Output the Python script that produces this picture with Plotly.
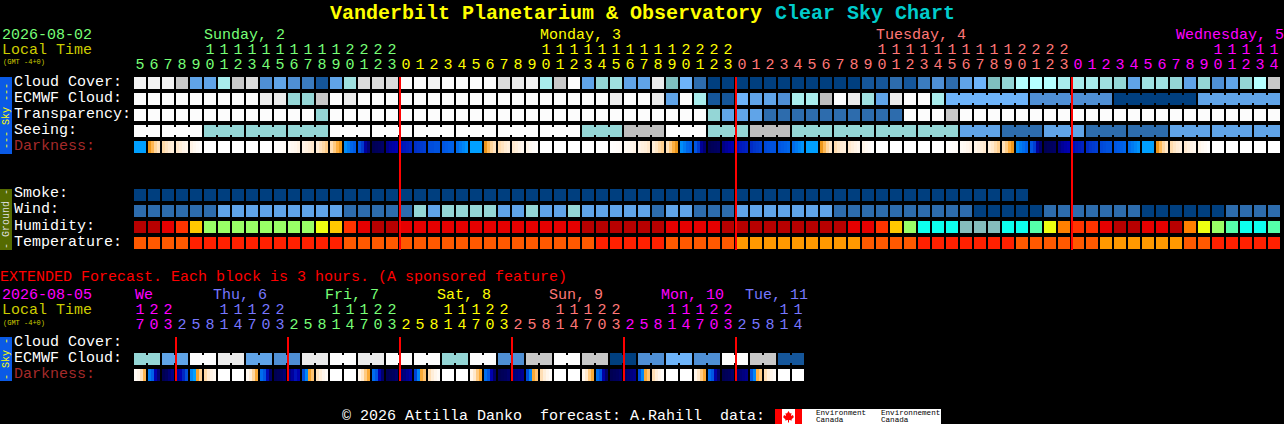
import plotly.graph_objects as go

W_PX, H_PX = 1284, 424
PITCH_X, PITCH_Y = 14, 16
LEFT, TOP = 134, 77
FONT = "Liberation Mono"
TITLE_FONT = "Liberation Mono"

PALETTE = {
    "W": "#fcfcfc", "W2": "#f3f3f3", "G0": "#ebebeb", "G1": "#dcdcdc", "G2": "#c8c8c8", "G3": "#bdbdbd",
    "C0": "#b5ffff", "C1": "#a8ecec", "C2": "#9fe0e0", "C3": "#94d6d6", "C4": "#7fbfbf",
    "B0": "#6eb4fa", "B1": "#60a4e8", "B2": "#4f8fd4", "B3": "#3b7cbf", "B4": "#2d6cad", "B5": "#15569a", "B6": "#003f7f",
    "D": "#b80000", "R": "#e60000", "O1": "#ff3300", "O2": "#ff8000", "Y": "#ffc800", "L": "#eeff11",
    "G": "#99ff66", "M": "#55ffaa", "Cy": "#0dffee", "S": "#85bdbd",
    "TA": "#ff9900", "TB": "#ff5900", "TC": "#ff2000",
}

cloud_cover = ("W2 W2 W2 G2 B1 B1 C1 G2 G1 B2 B1 B2 B3 B5 B1 C2 G1 G1 G1 "
               "W W W2 W W W W G1 G0 W2 C1 G2 W B1 C3 C2 B1 B1 G0 C4 B0 B4 B6 "
               "B6 B6 B6 B6 B6 B6 B6 B6 B6 B6 "
               "B5 B5 B4 B5 B3 B2 B4 B1 B0 C4 C3 C0 C0 C0 C1 C1 C1 C2 C3 B1 C2 C2 C3 B1 C3 B2 B1 C3 C0 G2").split()
ecmwf_cloud = ("W W W W W W W W W G0 G0 C3 C3 G2 W G0 W W W "
               "W W W W W W W W W W W W W W W G0 W W G0 B1 W C1 B5 B5 "
               "B0 B1 B1 B2 C1 C1 G3 W G0 C2 B1 G0 W W C1 "
               "B0 B0 B0 B0 B0 B0 B2 B2 B2 B2 B2 B2 B6 B6 B6 B6 B6 B6 B1 B1 B1 B1 B1 B1").split()
transparency = ("W W W W W W W W W W W W W C3 W W W W W "
                "W W W W W W W W W W W W W W W W W W W W W W C3 B1 "
                "B1 B1 B4 B4 B4 B4 B4 B4 B4 B4 B4 B4 W W W G2 "
                "W W W W W W W W W W W W W W W W W W W W W W W").split()
seeing = ("W W W W W C3 C3 C3 C3 C3 C3 C3 C3 C3 W W W W W "
          "W W W W W W W W W W W W W C3 C3 C3 G3 G3 G3 W W W C3 C3 "
          "C3 G3 G3 G3 C3 C3 C3 C3 C3 C3 C3 C3 C3 C3 C3 C3 "
          "B1 B1 B1 B4 B4 B4 B1 B1 B1 B4 B4 B4 B4 B4 B4 B1 B1 B1 B1 B1 B1 B1 B1").split()
smoke = ("B6 " * 64).split()
wind = ("B4 B4 B4 B4 B4 B4 B1 B1 B1 B1 B1 B1 B1 B1 B1 B4 B4 B4 B4 B4 C3 "
        "B1 C3 C3 C3 C3 B1 B1 C3 B1 B1 C3 B1 B1 B1 B1 B1 B4 B1 B1 B4 B4 B4 "
        "B1 B1 B1 B1 B1 B1 B1 B4 B4 B4 B4 B4 B4 B4 B4 B4 B4 "
        "B6 B6 B6 B6 B6 B4 B4 B4 B4 B4 B4 B4 B6 B6 B6 B6 B6 B6 B4 B4 B4 B4").split()
humidity = ("D D R O1 Y G G G G G G G G L Y O1 R D D R R "
            "R R R R R R R R R R R D D D D D D R R R R D D "
            "D D D D D D D R R O1 Y G Cy Cy Cy S S S Cy Cy M L O2 O1 O1 R D D R R D O2 L G M Cy Cy M").split()
temperature = ("TB TB TB TB TC TC TC TC TC TC TC TC TC TC TC TB TB TB TB TB TB "
               "TB TB TB TB TB TB TB TB TB TB TB TB TC TC TC TC TC TB TB TB TB TB TA "
               "TA TA TA TA TA TA TA TA TB TB TB TB TC TC TC TC TC TC TC TB TB TB TB TB TB "
               "TA TA TA TA TA TA TB TB TC TC TC TC TC").split()
darkness = [
    [50,50,50,50],[53,62,72,78],[74,78,82,84],[80,84,88,90],[88,92,96,98],
    [100,100,100,100],[100,100,100,100],[100,100,100,100],[100,100,100,100],[100,100,100,100],
    [99,98,97,95],[94,92,90,87],[88,86,83,80],[83,78,74,69],[76,68,60,53],
    [47,44,41,39],[37,32,16,8],[2,3,4,5],[12,16,18,20],
    [24,25,26,27],[30,31,32,33],[36,36,37,37],[38,39,40,40],[42,44,46,48],
    [50,50,50,50],[53,63,72,78],[75,78,82,85],[81,84,88,91],[89,93,96,98],
    [100,100,100,100],[100,100,100,100],[100,100,100,100],[100,100,100,100],[100,100,100,100],
    [99,98,97,96],[94,92,90,88],[88,86,84,80],[84,79,74,70],[77,68,60,53],
    [47,44,41,40],[38,32,15,8],[2,3,4,5],[11,15,18,20],
    [23,25,26,27],[29,31,32,33],[35,36,37,37],[38,39,40,41],[42,44,46,48],
    [50,50,50,50],[53,63,73,79],[75,79,83,85],[81,85,88,91],[89,93,96,99],
    [100,100,100,100],[100,100,100,100],[100,100,100,100],[100,100,100,100],[100,100,100,100],
    [99,98,97,96],[95,93,90,88],[89,86,84,81],[84,80,75,70],[77,69,60,53],
    [47,44,42,40],[38,33,15,7],[2,3,4,5],[10,15,18,20],
    [23,25,26,27],[29,31,32,33],[35,36,37,37],[38,39,40,41],[42,44,46,48],
    [50,50,50,50],[53,63,73,79],[75,79,83,85],[81,85,88,91],[89,93,96,99],
    [100,100,100,100],[100,100,100,100],[100,100,100,100],[100,100,100,100],[100,100,100,100],
]

ext_ecmwf = ("C3 C3 B1 B1 W W G0 G0 B1 B1 B2 B2 G0 G0 W W G0 G0 W W W W C3 C3 "
             "W W B2 B2 G2 G2 W W G2 G2 B6 B6 B2 B2 B0 B0 B2 B2 W W G2 G2 B5 B5").split()
ext_darkness = [
    [96,90,78,62],[44,40,20,8],[2,4,8,12],[16,20,28,36],[46,50,56,70],[74,82,88,92],[100,100,100,100],[100,100,100,100],
    [92,84,72,58],[42,38,22,6],[2,3,5,8],[10,16,24,20],[36,46,56,66],[78,84,90,96],[100,100,100,100],[100,100,100,100],
    [90,80,68,58],[42,38,20,6],[2,3,4,6],[8,10,14,18],[34,46,58,66],[76,84,90,96],[100,100,100,100],[100,100,100,100],
    [90,80,68,58],[42,38,20,6],[2,3,4,6],[8,10,12,14],[36,46,58,66],[76,84,90,96],[100,100,100,100],[100,100,100,100],
    [90,80,68,58],[42,38,18,6],[2,3,4,6],[6,8,10,12],[36,46,58,66],[76,84,90,96],[100,100,100,100],[100,100,100,100],
    [90,80,68,58],[42,38,18,6],[2,3,4,6],[6,8,10,12],[38,46,60,68],[76,84,90,96],[100,100,100,100],[100,100,100,100],
]

main_hours = [5,6,7,8,9,10,11,12,13,14,15,16,17,18,19,20,21,22,23,
              0,1,2,3,4,5,6,7,8,9,10,11,12,13,14,15,16,17,18,19,20,21,22,23,
              0,1,2,3,4,5,6,7,8,9,10,11,12,13,14,15,16,17,18,19,20,21,22,23,
              0,1,2,3,4,5,6,7,8,9,10,11,12,13,14]
ext_hours = [17,20,23, 2,5,8,11,14,17,20,23, 2,5,8,11,14,17,20,23, 2,5,8,11,14,17,20,23,
             2,5,8,11,14,17,20,23, 2,5,8,11,14,17,20,23, 2,5,8,11,14]

C_GREEN, C_YEL, C_SAL, C_MAG, C_PER = "#77ff77", "#ffff00", "#ff7777", "#ff00ff", "#7777ff"
main_day_labels = [("Sunday, 2", 204, C_GREEN), ("Monday, 3", 540, C_YEL), ("Tuesday, 4", 876, C_SAL), ("Wednesday, 5", 1176, C_MAG)]
main_day_spans = [(19, C_GREEN), (24, C_YEL), (24, C_SAL), (15, C_MAG)]
ext_day_labels = [("We", 135, C_MAG), ("Thu, 6", 213, C_PER), ("Fri, 7", 325, C_GREEN), ("Sat, 8", 437, C_YEL),
                  ("Sun, 9", 549, C_SAL), ("Mon, 10", 661, C_MAG), ("Tue, 11", 745, C_PER)]
ext_day_spans = [(3, C_MAG), (8, C_PER), (8, C_GREEN), (8, C_YEL), (8, C_SAL), (8, C_MAG), (5, C_PER)]
main_midnights = [19, 43, 67]
ext_midnights = [3, 11, 19, 27, 35, 43]

seeing_blocks = [(0, 1)] + [(s, min(s + 2, 81)) for s in range(2, 82, 3)]
ecmwf_blocks = [(58, 63), (64, 69), (70, 75), (76, 81)]
ext_blocks = [(s, s + 1) for s in range(0, 48, 2)]

for series in (cloud_cover, ecmwf_cloud, transparency, seeing, wind, humidity, temperature, darkness, main_hours):
    assert len(series) == 82, len(series)
for series in (ext_ecmwf, ext_darkness, ext_hours):
    assert len(series) == 48, len(series)

keys = list(PALETTE)
cat_scale = [[i / (len(keys) - 1), PALETTE[k]] for i, k in enumerate(keys)]
dark_scale = [[0, "#000048"], [.10, "#000080"], [.20, "#0000b0"], [.30, "#0030c8"], [.40, "#0060e8"], [.50, "#00a0ff"],
              [.51, "#e89010"], [.60, "#ffb040"], [.70, "#ffd090"], [.80, "#ffe8cc"], [.90, "#fff6ec"], [1, "#ffffff"]]


def rowy(py):
    return (py - TOP) / PITCH_Y


CELL = 12 / PITCH_X
fig = go.Figure()


def cat_row(r, values, blocks=()):
    n = len(values)
    x = []
    z = []
    neck = []
    joined = {j for a, b in blocks for j in range(a, b)}
    for i, v in enumerate(values):
        x += [i, i + CELL]
        idx = keys.index(v)
        z += [idx, None]
        neck += [None, idx if i in joined else None]
    x.append(n)
    fig.add_trace(go.Heatmap(x=x, y=[r, r + 0.75], z=[z], coloraxis="coloraxis", hoverinfo="skip"))
    if joined:
        fig.add_trace(go.Heatmap(x=x, y=[r + 2 / PITCH_Y, r + 10 / PITCH_Y], z=[neck], coloraxis="coloraxis", hoverinfo="skip"))


def dark_row(r, cells):
    x = []
    z = []
    for i, sub in enumerate(cells):
        for k, v in enumerate(sub):
            x.append(i + k * CELL / 4)
            z.append(v)
        x.append(i + CELL)
        z.append(None)
    x.append(len(cells))
    fig.add_trace(go.Heatmap(x=x, y=[r, r + 0.75], z=[z], coloraxis="coloraxis2", hoverinfo="skip"))


cat_row(0, cloud_cover)
cat_row(1, ecmwf_cloud, ecmwf_blocks)
cat_row(2, transparency)
cat_row(3, seeing, seeing_blocks)
dark_row(4, darkness)
cat_row(7, smoke)
cat_row(8, wind)
cat_row(9, humidity)
cat_row(10, temperature)
cat_row(rowy(353), ext_ecmwf, ext_blocks)
dark_row(rowy(369), ext_darkness)


def hour_text(hours, spans, y_tens, y_units):
    colors = [c for n, c in spans for _ in range(n)]
    xs = [i + 6 / PITCH_X for i in range(len(hours))]
    fig.add_trace(go.Scatter(x=xs, y=[rowy(y_units)] * len(hours), mode="text", text=[str(h % 10) for h in hours],
                             textposition="middle center", textfont=dict(family=FONT, size=15, color=colors), hoverinfo="skip"))
    fig.add_trace(go.Scatter(x=xs, y=[rowy(y_tens)] * len(hours), mode="text", text=[str(h // 10) if h >= 10 else "" for h in hours],
                             textposition="middle center", textfont=dict(family=FONT, size=15, color=colors), hoverinfo="skip"))


hour_text(main_hours, main_day_spans, 50, 65)
hour_text(ext_hours, ext_day_spans, 310, 325)

annotations = []


def txt(px, py, s, color="#ffffff", size=15, bold=False, angle=0, anchor="left", family=FONT):
    annotations.append(dict(
        x=px / W_PX, y=1 - py / H_PX, xref="paper", yref="paper", text=f"<b>{s}</b>" if bold else s, showarrow=False,
        xanchor=anchor, yanchor="middle", textangle=angle, borderpad=0, borderwidth=0,
        font=dict(family=family, size=size, color=color)))


txt(330, 13, 'Vanderbilt Planetarium &amp; Observatory', "#ffff00", 20, True, family=TITLE_FONT)
txt(775, 13, "Clear Sky Chart", "#00cccc", 20, True, family=TITLE_FONT)
txt(2, 35.5, "2026-08-02", C_GREEN)
txt(2, 50.5, "Local Time", "#cccc00")
txt(3, 62.5, "(GMT -4+0)", "#cccc00", 7)
for s, px, c in main_day_labels:
    txt(px, 35.5, s, c)
for s, py in [("Cloud Cover:", 82), ("ECMWF Cloud:", 98), ("Transparency:", 114), ("Seeing:", 130)]:
    txt(14, py, s)
txt(14, 146, "Darkness:", "#a52a2a")
for s, py in [("Smoke:", 194), ("Wind:", 210), ("Humidity:", 226), ("Temperature:", 242)]:
    txt(14, py, s)
txt(0, 277, "EXTENDED Forecast. Each block is 3 hours. (A sponsored feature)", "#ff0000")
txt(2, 295.5, "2026-08-05", C_MAG)
txt(2, 310.5, "Local Time", "#cccc00")
txt(3, 322.5, "(GMT -4+0)", "#cccc00", 7)
for s, px, c in ext_day_labels:
    txt(px, 295.5, s, c)
txt(14, 342, "Cloud Cover:")
txt(14, 358, "ECMWF Cloud:")
txt(14, 374, "Darkness:", "#a52a2a")
txt(342, 416, "© 2026 Attilla Danko  forecast: A.Rahill  data:")
txt(6, 116, "--- Sky ---", "#ffff00", 10, angle=-90, anchor="center")
txt(6, 219, "- Ground -", "#dddddd", 10, angle=-90, anchor="center")
txt(6, 359, "- Sky -", "#ffff00", 10, angle=-90, anchor="center")
txt(816, 413, "Environment", "#000000", 7.6)
txt(816, 420, "Canada", "#000000", 7.6)
txt(881, 413, "Environnement", "#000000", 7.6)
txt(881, 420, "Canada", "#000000", 7.6)


def px_rect(x0, y0, x1, y1, color):
    return dict(type="rect", xref="paper", yref="paper", x0=x0 / W_PX, x1=x1 / W_PX, y0=1 - y0 / H_PX, y1=1 - y1 / H_PX,
                fillcolor=color, line_width=0, layer="below")


shapes = [px_rect(0, 77, 12, 154, "#0a5ae6"), px_rect(0, 189, 12, 250, "#556b00"), px_rect(0, 337, 12, 381, "#0a5ae6"),
          px_rect(775, 409, 941, 424, "#ffffff"), px_rect(775, 409, 782, 424, "#ff0000"), px_rect(795, 409, 802, 424, "#ff0000")]
for c in main_midnights:
    shapes.append(dict(type="line", xref="x", yref="y", x0=c, x1=c, y0=0, y1=rowy(250), line=dict(color="#ff0000", width=2)))
for c in ext_midnights:
    shapes.append(dict(type="line", xref="x", yref="y", x0=c, x1=c, y0=rowy(337), y1=rowy(381), line=dict(color="#ff0000", width=2)))

# maple leaf of the flag
leaf = [(788.5, 411), (790, 413.5), (791.5, 413), (791, 416), (793, 415), (793.5, 416.5), (794, 417), (791.5, 419.5), (792, 420.5),
        (789, 420), (789, 422.5), (788, 422.5), (788, 420), (785, 420.5), (785.5, 419.5), (783, 417), (783.5, 416.5), (784, 415),
        (786, 416), (785.5, 413), (787, 413.5)]
shapes.append(dict(type="path", xref="paper", yref="paper", line_width=0, fillcolor="#ff0000", layer="below",
                   path="M" + " L".join(f"{x / W_PX:.5f},{1 - y / H_PX:.5f}" for x, y in leaf) + " Z"))

fig.update_layout(
    width=W_PX, height=H_PX, margin=dict(l=0, r=0, t=0, b=0, pad=0), showlegend=False,
    paper_bgcolor="#000000", plot_bgcolor="rgba(0,0,0,0)",
    xaxis=dict(range=[-LEFT / PITCH_X, (W_PX - LEFT) / PITCH_X], visible=False, fixedrange=True),
    yaxis=dict(range=[(H_PX - TOP) / PITCH_Y, -TOP / PITCH_Y], visible=False, fixedrange=True),
    coloraxis=dict(colorscale=cat_scale, cmin=0, cmax=len(keys) - 1, showscale=False),
    coloraxis2=dict(colorscale=dark_scale, cmin=0, cmax=100, showscale=False),
    annotations=annotations, shapes=shapes,
)
fig.write_html("out.html", config={"displayModeBar": False}, post_script="document.body.style.margin='0';document.body.style.background='#000';")
